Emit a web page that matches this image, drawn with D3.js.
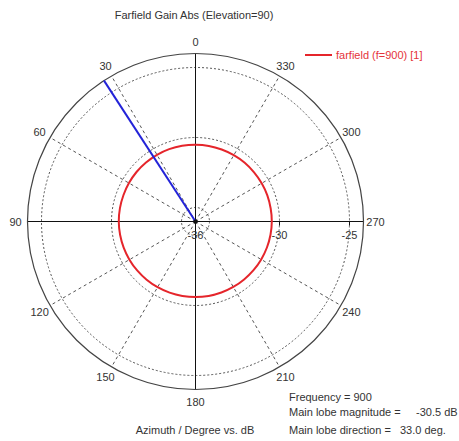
<!DOCTYPE html>
<html><head><meta charset="utf-8">
<script src="https://cdn.jsdelivr.net/npm/d3@7"></script>
<style>body{margin:0;background:#fff}svg{display:block}text{font-family:"Liberation Sans",Arial,sans-serif;font-size:11px;fill:#333}</style>
</head><body>
<svg id="c" width="459" height="441"></svg>
<script>
// Data
const azimuths = [0,10,20,30,40,50,60,70,80,90,100,110,120,130,140,150,160,170,180,190,200,210,220,230,240,250,260,270,280,290,300,310,320,330,340,350];
const gainDb = [-30.52,-30.51,-30.5,-30.5,-30.5,-30.5,-30.51,-30.52,-30.52,-30.52,-30.53,-30.54,-30.55,-30.56,-30.57,-30.58,-30.59,-30.6,-30.6,-30.6,-30.6,-30.6,-30.6,-30.59,-30.58,-30.57,-30.56,-30.55,-30.55,-30.54,-30.54,-30.54,-30.53,-30.53,-30.53,-30.52];
const angleTicks = [0,30,60,90,120,150,180,210,240,270,300,330];
const radialTicks = [-35,-30,-25];
const radialLabels = [-36,-30,-25];
const mainLobeDir = 33.0;
const mainLobeMag = -30.5;
const frequency = 900;

const svg = d3.select("#c");
const cx = 195.5, cy = 221.5, R = 168;
const r = d3.scaleLinear().domain([-36,-24]).range([0,R]);
const rad = a => a*Math.PI/180;
const px = (a,rr) => cx - rr*Math.sin(rad(a));
const py = (a,rr) => cy - rr*Math.cos(rad(a));

const g = svg.append("g");

// dotted circles
g.selectAll("circle.grid").data(radialTicks).join("circle")
  .attr("cx",cx).attr("cy",cy).attr("r",d=>r(d))
  .attr("fill","none").attr("stroke","#555").attr("stroke-width",1).attr("stroke-dasharray","2,2");

// dashed spokes
g.selectAll("line.spoke").data(angleTicks.filter(a=>a%90!==0)).join("line")
  .attr("x1",cx).attr("y1",cy).attr("x2",d=>px(d,R)).attr("y2",d=>py(d,R))
  .attr("stroke","#555").attr("stroke-width",1).attr("stroke-dasharray","3,3");

// solid axes
g.selectAll("line.axis").data([0,90]).join("line")
  .attr("x1",d=>px(d,R)).attr("y1",d=>py(d,R)).attr("x2",d=>px(d+180,R)).attr("y2",d=>py(d+180,R))
  .attr("stroke","#111").attr("stroke-width",1);

// outer circle
g.append("circle").attr("cx",cx).attr("cy",cy).attr("r",R)
  .attr("fill","none").attr("stroke","#444").attr("stroke-width",1.2);

// radial ticks on horizontal axis
g.selectAll("line.rt").data(radialLabels.slice(1)).join("line")
  .attr("x1",d=>cx+r(d)).attr("x2",d=>cx+r(d)).attr("y1",cy).attr("y2",cy+4)
  .attr("stroke","#111");

// radial labels
g.selectAll("text.rl").data(radialLabels).join("text")
  .attr("x",d=>cx+r(d)).attr("y",cy+17).attr("text-anchor","middle").text(d=>d);

// angle labels
g.selectAll("text.al").data(angleTicks).join("text")
  .attr("x",d=>px(d,180)).attr("y",d=>py(d,180)+4).attr("text-anchor","middle").text(d=>d);

// curve
const line = d3.lineRadial().angle(d=>-rad(d[0])).radius(d=>r(d[1])).curve(d3.curveCardinalClosed);
g.append("path").datum(azimuths.map((a,i)=>[a,gainDb[i]]))
  .attr("transform",`translate(${cx},${cy})`)
  .attr("d",line).attr("fill","none").attr("stroke","#e5252b").attr("stroke-width",2);

// main lobe line
g.append("line").attr("x1",cx).attr("y1",cy).attr("x2",px(mainLobeDir,R)).attr("y2",py(mainLobeDir,R))
  .attr("stroke","#2323d8").attr("stroke-width",2);
g.append("circle").attr("cx",cx).attr("cy",cy).attr("r",2).attr("fill","#111");

// title
svg.append("text").attr("x",194).attr("y",19).attr("text-anchor","middle").text("Farfield Gain Abs (Elevation=90)");
// legend
svg.append("line").attr("x1",305).attr("x2",332).attr("y1",55).attr("y2",55).attr("stroke","#e5252b").attr("stroke-width",2);
svg.append("text").attr("x",336).attr("y",59).style("fill","#e5333a").text(`farfield (f=${frequency}) [1]`);
// bottom texts
svg.append("text").attr("x",195).attr("y",434).attr("text-anchor","middle").text("Azimuth / Degree vs. dB");
svg.append("text").attr("x",289).attr("y",401).text(`Frequency = ${frequency}`);
svg.append("text").attr("x",289).attr("y",416).text("Main lobe magnitude =");
svg.append("text").attr("x",416).attr("y",416).text(`${mainLobeMag.toFixed(1)} dB`);
svg.append("text").attr("x",289).attr("y",434).text("Main lobe direction =");
svg.append("text").attr("x",400).attr("y",434).text(`${mainLobeDir.toFixed(1)} deg.`);
</script>
</body></html>
